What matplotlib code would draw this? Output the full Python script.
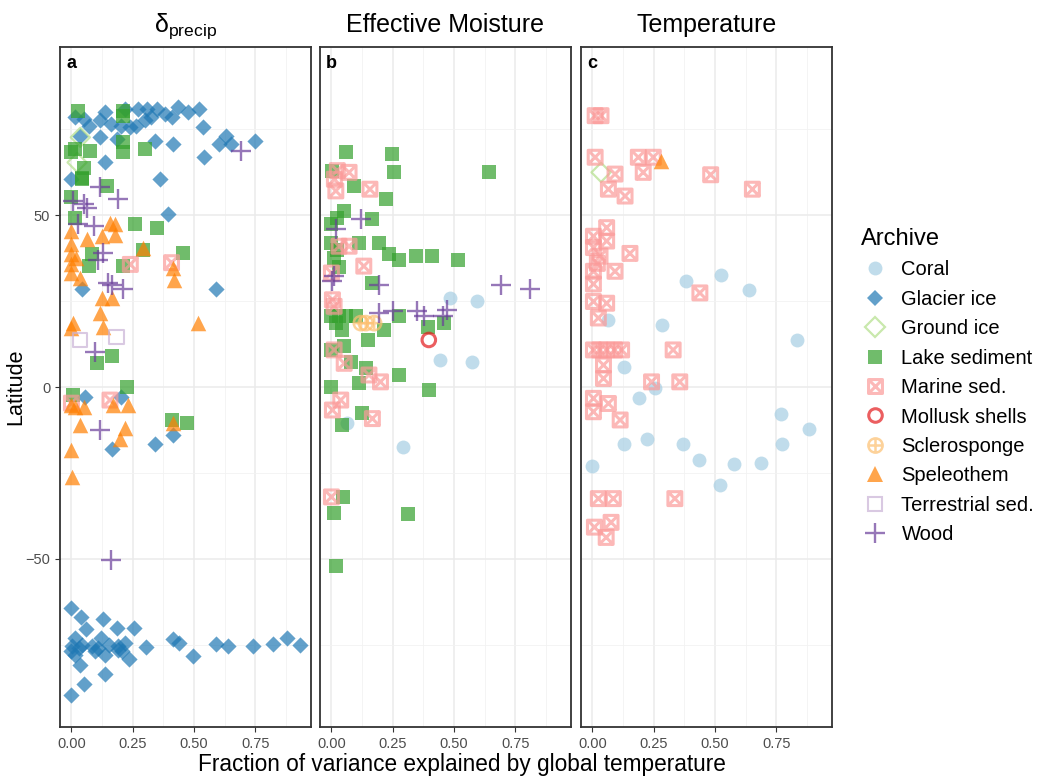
import numpy as np
import matplotlib
matplotlib.use("Agg")
import matplotlib.pyplot as plt
from matplotlib.path import Path
from matplotlib.lines import Line2D

plt.rcParams['font.family'] = ['Liberation Sans', 'DejaVu Sans']

# ---- data: (fraction of variance, latitude) per archive and panel ----
archives = ["Coral", "Glacier ice", "Ground ice", "Lake sediment", "Marine sed.",
            "Mollusk shells", "Sclerosponge", "Speleothem", "Terrestrial sed.", "Wood"]
panel_titles = [r"$\mathregular{\delta_{precip}}$", "Effective Moisture", "Temperature"]
panel_tags = ["a", "b", "c"]
x_ticks = [0.0, 0.25, 0.5, 0.75]
x_ticklabels = ["0.00", "0.25", "0.50", "0.75"]
y_ticks = [-50, 0, 50]

a_glacier = [(0.015, 78.6), (0.05, 78), (0.137, 80), (0.117, 77.6), (0.16, 76.6), (0.2, 76),
             (0.22, 81), (0.27, 81), (0.31, 81), (0.35, 81), (0.24, 75.6), (0.265, 76),
             (0.3, 77.6), (0.325, 78.6), (0.38, 79.5), (0.41, 78.6), (0.435, 81.6), (0.475, 80),
             (0.52, 81), (0.535, 75.6), (0.6, 70.8), (0.63, 73.2), (0.65, 70.8), (0.75, 71.7),
             (0.54, 66.9), (0.415, 70.8), (0.34, 71.7), (0.117, 72.7), (0.035, 73.2), (0.184, 72.2),
             (0.137, 65.4), (0.0, 60.5), (0.36, 60.5), (0.395, 50.3), (0.07, 76), (0.59, 28.6),
             (0.043, 28.4), (0.055, -2.8), (0.2, -2.8), (0.415, -14), (0.34, -16.5), (0.164, -18),
             (0.0, -64.2), (0.04, -66.9), (0.129, -67.5), (0.06, -70.6), (0.186, -70.1),
             (0.256, -70.1), (0.016, -73), (0.122, -73), (0.003, -75.4), (0.043, -75),
             (0.084, -75.4), (0.11, -75.9), (0.152, -75), (0.19, -75.4), (0.22, -74.5),
             (0.303, -75.7), (0.416, -73.5), (0.44, -74.5), (0.497, -78.4), (0.59, -74.8),
             (0.64, -75.3), (0.74, -75.3), (0.82, -74.8), (0.877, -73), (0.93, -75.1),
             (0.016, -77.9), (0.036, -80.8), (0.138, -77.9), (0.233, -79.3), (0.138, -83.7),
             (0.05, -86.4), (0.0, -89.8), (0.0, -76.9), (0.098, -76.9), (0.03, -76),
             (0.19, -76.5), (0.206, -77)]
a_ground = [(0.036, 72.7), (0.023, 65.4)]
a_lake = [(0.028, 80.5), (0.21, 80.5), (0.21, 78.8), (0.0, 68.3), (0.075, 68.8), (0.21, 71.2),
          (0.21, 68.3), (0.3, 69.3), (0.05, 63.9), (0.042, 61), (0.144, 58.6), (0.0, 55.2),
          (0.015, 49.3), (0.26, 47.4), (0.347, 46.4), (0.29, 40), (0.455, 39.1), (0.083, 38.6),
          (0.07, 35.2), (0.21, 35.2), (0.164, 8.9), (0.103, 6.9), (0.225, 0.1), (0.008, -2.3),
          (0.408, -9.6), (0.469, -10.6), (0.016, 69.3), (0.043, 60.5)]
a_marine = [(0.24, 35.7), (0.408, 36.2), (0.157, -3.8), (0.0, -4.7)]
a_spel = [(0.157, 47.9), (0.178, 47.4), (0.178, 44.4), (0.0, 45.4), (0.062, 43), (0.123, 44),
          (0.0, 41.5), (0.29, 40.6), (0.0, 38.6), (0.02, 37.6), (0.0, 35.7), (0.415, 34.7),
          (0.42, 31.3), (0.0, 33.2), (0.035, 31.8), (0.123, 25.9), (0.164, 25.9), (0.117, 21.5),
          (0.13, 17.6), (0.008, 18.6), (0.0, 17.2), (0.516, 18.6), (0.0, -5.3), (0.015, -5.8),
          (0.05, -5.8), (0.17, -5.3), (0.23, -5.3), (0.035, -11.1), (0.415, -10.6),
          (0.218, -12), (0.198, -15), (0.0, -18.4), (0.003, -26.2)]
a_terr = [(0.035, 13.7), (0.184, 14.5)]
a_wood = [(0.69, 68.8), (0.117, 58.1), (0.19, 54.7), (0.008, 54.2), (0.05, 53.2), (0.062, 52.2),
          (0.028, 47.4), (0.09, 46.9), (0.13, 39.1), (0.11, 37.1), (0.15, 30.3), (0.164, 29.8),
          (0.21, 28.4), (0.096, 10.3), (0.117, -12.6), (0.163, -50.4)]

b_coral = [(0.485, 25.9), (0.595, 25), (0.444, 7.9), (0.573, 7.4), (0.065, -10.6), (0.29, -17.6)]
b_lake = [(0.058, 68.3), (0.248, 67.8), (0.255, 62.5), (0.004, 63), (0.092, 58.6), (0.221, 54.7),
          (0.052, 51.3), (0.024, 49.3), (0.0, 47.4), (0.167, 48.8), (0.0, 42), (0.024, 40),
          (0.113, 42), (0.194, 42), (0.235, 38.6), (0.275, 37.1), (0.343, 38.1), (0.41, 38.1),
          (0.518, 37.1), (0.167, 30.3), (0.642, 62.5), (0.0, 20.6), (0.03, 20.6), (0.06, 20.6),
          (0.1, 20.6), (0.275, 20.6), (0.214, 16.7), (0.15, 13.7), (0.045, 16.7), (0.018, 18.6),
          (0.458, 18.6), (0.394, 17.6), (0.0, 10.8), (0.052, 11.8), (0.08, 7.4), (0.14, 5.5),
          (0.113, 1.1), (0.275, 3.5), (0.397, -0.9), (0.0, 0.1), (0.126, -7.7), (0.045, -11.1),
          (0.046, -32), (0.012, -36.8), (0.314, -37), (0.019, -52), (0.012, 37.5), (0.03, 35)]
b_marine = [(0.024, 63), (0.072, 62.5), (0.018, 57.1), (0.157, 57.6), (0.012, 60.5), (0.072, 41),
            (0.031, 41), (0.132, 35.2), (0.0, 33.2), (0.004, 25.4), (0.011, 23.5), (0.011, 10.8),
            (0.052, 6.9), (0.153, 3.5), (0.2, 1.5), (0.038, -3.8), (0.004, -6.7), (0.167, -9.2),
            (0.0, -32)]
b_mollusk = [(0.397, 13.7)]
b_sclero = [(0.12, 18.6), (0.14, 18.6), (0.174, 18.6)]
b_wood = [(0.12, 48.8), (0.018, 45.9), (0.011, 32.3), (0.004, 30.8), (0.194, 29.8), (0.194, 21.5),
          (0.25, 22), (0.35, 22), (0.377, 20.6), (0.453, 20.6), (0.472, 22.5), (0.69, 29.8),
          (0.81, 28.4)]

c_coral = [(0.381, 30.8), (0.523, 32.5), (0.638, 28.2), (0.062, 19.6), (0.282, 18.1), (0.13, 5.9),
           (0.255, -0.4), (0.191, -3.3), (0.77, -7.9), (0.883, -12.1), (0.127, -16.7),
           (0.221, -15), (0.371, -16.7), (0.773, -16.7), (0.435, -21.2), (0.577, -22.5),
           (0.689, -22), (0.522, -28.5), (0.0, -23.1), (0.832, 13.7)]
c_ground = [(0.035, 62.5)]
c_marine = [(0.011, 79), (0.035, 79), (0.011, 66.9), (0.187, 66.9), (0.248, 66.9), (0.207, 62.5),
            (0.092, 62), (0.065, 57.6), (0.133, 55.6), (0.482, 61.8), (0.652, 57.6),
            (0.058, 46.4), (0.004, 43.9), (0.058, 42.5), (0.004, 40.6), (0.031, 38.1),
            (0.153, 38.9), (0.092, 33.7), (0.004, 33.7), (0.02, 36), (0.004, 30), (0.438, 27.4),
            (0.004, 24.9), (0.058, 24.4), (0.024, 20.1), (0.004, 10.8), (0.03, 10.8),
            (0.058, 10.8), (0.09, 10.8), (0.119, 10.8), (0.329, 10.8), (0.045, 6.4),
            (0.045, 2.5), (0.241, 1.5), (0.356, 1.5), (0.004, -3.3), (0.065, -4.8),
            (0.004, -7.2), (0.113, -9.6), (0.024, -32.5), (0.085, -32.5), (0.336, -32.5),
            (0.008, -40.8), (0.076, -39.4), (0.056, -43.8)]
c_spel = [(0.28, 65.9)]

panels = [
    {"Glacier ice": a_glacier, "Ground ice": a_ground, "Lake sediment": a_lake,
     "Marine sed.": a_marine, "Speleothem": a_spel, "Terrestrial sed.": a_terr, "Wood": a_wood},
    {"Coral": b_coral, "Lake sediment": b_lake, "Marine sed.": b_marine,
     "Mollusk shells": b_mollusk, "Sclerosponge": b_sclero, "Wood": b_wood},
    {"Coral": c_coral, "Ground ice": c_ground, "Marine sed.": c_marine, "Speleothem": c_spel},
]

# ---- marker styles ----
box_x = Path([(-1, -1), (1, -1), (1, 1), (-1, 1), (-1, -1), (-1, -1), (1, 1), (-1, 1), (1, -1)],
             [Path.MOVETO, Path.LINETO, Path.LINETO, Path.LINETO, Path.CLOSEPOLY,
              Path.MOVETO, Path.LINETO, Path.MOVETO, Path.LINETO])
circ = Path.unit_circle()
circ_plus = Path.make_compound_path(
    circ, Path([(-1, 0), (1, 0), (0, -1), (0, 1)],
               [Path.MOVETO, Path.LINETO, Path.MOVETO, Path.LINETO]))

# marker, color, size, filled, linewidth
style = {
    "Coral": ("o", "#a6cee3", 100, True, 0),
    "Glacier ice": ("D", "#1f78b4", 68, True, 0),
    "Ground ice": ("D", "#b2df8a", 95, False, 1.6),
    "Lake sediment": ("s", "#33a02c", 100, True, 0),
    "Marine sed.": (box_x, "#fb9a99", 100, False, 2.2),
    "Mollusk shells": ("o", "#e31a1c", 95, False, 2.2),
    "Sclerosponge": (circ_plus, "#fdbf6f", 105, False, 1.8),
    "Speleothem": ("^", "#ff7f00", 125, True, 0),
    "Terrestrial sed.": ("s", "#cab2d6", 110, False, 1.5),
    "Wood": ("+", "#6a3d9a", 220, False, 1.7),
}
ALPHA = 0.7

fig = plt.figure(figsize=(10.37, 7.82), dpi=100)
lefts = [0.0579, 0.3086, 0.5603]
axes = []
for i, left in enumerate(lefts):
    ax = fig.add_axes([left, 0.0703, 0.2420, 0.8696])
    axes.append(ax)
    ax.set_xlim(-0.0465, 0.9765)
    ax.set_ylim(-99, 99)
    ax.set_xticks(x_ticks)
    ax.set_xticklabels(x_ticklabels)
    ax.set_xticks([0.125, 0.375, 0.625, 0.875], minor=True)
    ax.set_yticks(y_ticks)
    ax.set_yticks([-75, -25, 25, 75], minor=True)
    ax.grid(True, which="major", color="#ebebeb", linewidth=1.1, zorder=0)
    ax.grid(True, which="minor", color="#f2f2f2", linewidth=0.6, zorder=0)
    ax.set_axisbelow(True)
    ax.tick_params(which="major", length=3.5, width=0.8, color="#333333",
                   labelcolor="#4d4d4d", labelsize=10.5)
    ax.tick_params(which="minor", length=0)
    if i > 0:
        ax.tick_params(axis="y", which="both", left=False, labelleft=False)
    for sp in ax.spines.values():
        sp.set_color("#333333")
        sp.set_linewidth(1.3)

    for name in archives:
        pts = panels[i].get(name)
        if not pts:
            continue
        xs, ys = zip(*pts)
        mk, col, s, filled, lw = style[name]
        if filled:
            ax.scatter(xs, ys, marker=mk, s=s, c=col, alpha=ALPHA, linewidths=0, zorder=3)
        elif mk == "+":
            ax.scatter(xs, ys, marker=mk, s=s, c=col, alpha=ALPHA, linewidths=lw, zorder=3)
        else:
            ax.scatter(xs, ys, marker=mk, s=s, facecolors="none", edgecolors=col,
                       alpha=ALPHA, linewidths=lw, zorder=3)

    ax.text(0.025, 0.988, panel_tags[i], transform=ax.transAxes, ha="left", va="top",
            fontsize=13, fontweight="bold")
    ax.set_title(panel_titles[i], fontsize=18, pad=11)

axes[0].set_ylabel("Latitude", fontsize=15.5)
axes[0].yaxis.set_label_coords(-0.133, 0.5)
fig.text(0.445, 0.022, "Fraction of variance explained by global temperature",
         ha="center", va="center", fontsize=16.3)

# ---- legend ----
handles = []
for name in archives:
    mk, col, s, filled, lw = style[name]
    ms = np.sqrt(s)
    if filled:
        h = Line2D([], [], linestyle="none", marker=mk, markersize=ms, color=col,
                   markeredgewidth=0, alpha=ALPHA)
    elif mk == "+":
        h = Line2D([], [], linestyle="none", marker=mk, markersize=ms, color=col,
                   markeredgewidth=lw, alpha=ALPHA)
    else:
        h = Line2D([], [], linestyle="none", marker=mk, markersize=ms, markerfacecolor="none",
                   markeredgecolor=col, markeredgewidth=lw, alpha=ALPHA)
    handles.append(h)
leg = fig.legend(handles, archives, loc="upper left", bbox_to_anchor=(0.813, 0.732),
                 frameon=False, title="Archive", fontsize=14.5, title_fontsize=17,
                 labelspacing=0.52, handletextpad=0.6, handlelength=1.4,
                 alignment="left")

fig.savefig("out.png", dpi=100)
